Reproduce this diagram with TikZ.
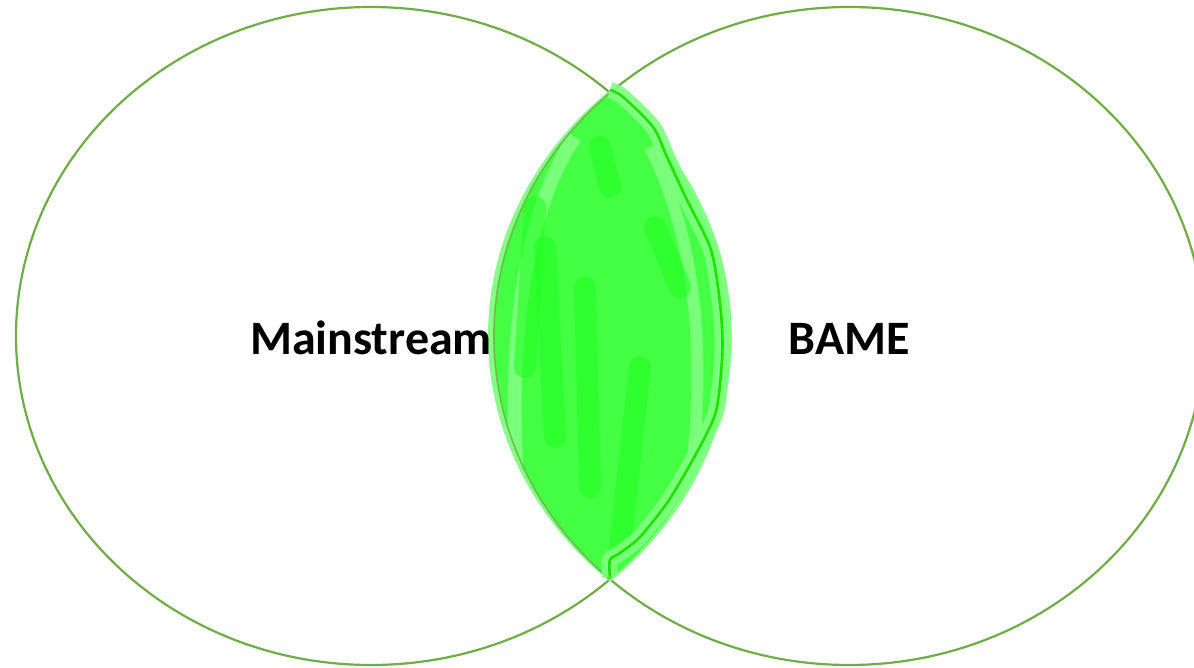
\documentclass[tikz,border=0pt]{standalone}
\usepackage{fontspec}
\setmainfont{Carlito}
\definecolor{ringgreen}{HTML}{70AD47}
\definecolor{hlA}{HTML}{80FF80}
\definecolor{hlB}{HTML}{40FF40}
\definecolor{hlC}{HTML}{1EFF1E}
\definecolor{penline}{HTML}{22E000}
\tikzset{
  ring/.style={draw=ringgreen, line width=2.2pt},
  label/.style={font=\bfseries\fontsize{48}{56}\selectfont, anchor=base, inner sep=0pt},
  streak/.style={draw=hlC, line width=22pt, line cap=round, opacity=0.55},
}
\begin{document}
\begin{tikzpicture}[x=1pt,y=1pt]
\useasboundingbox (0,0) rectangle (1194,667);
\fill[white] (0,0) rectangle (1194,667);
\def\lenspath{(610,574.4) arc[start angle=47.7, end angle=-47.7, x radius=355, y radius=329]
  arc[start angle=227.7, end angle=132.3, x radius=355, y radius=329] -- cycle}
\def\penpts{(610,90) (610,107) (620,114) (640,130) (667,164) (687,197) (707,234) (717,260)
  (722,307) (722,340) (718,380) (710,420) (687,467) (667,510) (653,540) (623,570) (610,577)}
% ellipses
\draw[ring] (371,331) ellipse[x radius=355, y radius=329];
\draw[ring] (849,331) ellipse[x radius=355, y radius=329];
% light rim slightly outside the lens
\begin{scope}[shift={(612,331)}, xscale=1.05, yscale=1.01, shift={(-612,-331)}]
  \fill[hlA, opacity=0.95] \lenspath;
\end{scope}
% main fill
\begin{scope}
  \clip \lenspath;
  \fill[hlB, opacity=0.92] (480,60) rectangle (740,600);
  \draw[draw=hlA, line width=14pt, opacity=0.9] (520,150) .. controls (505,300) and (520,450) .. (575,530);
  \draw[draw=hlA, line width=12pt, opacity=0.9] (690,180) .. controls (705,300) and (700,420) .. (650,520);
  \draw[streak] (555,230) -- (545,420);
  \draw[streak] (590,180) -- (585,380);
  \draw[streak] (620,120) -- (640,300);
  \draw[streak] (525,300) -- (535,460);
  \draw[streak] (680,380) -- (655,440);
  \draw[streak] (610,480) -- (600,520);
\end{scope}
% redraw the left edge of the lens (right ellipse) faintly on top
\draw[ringgreen, line width=1.6pt, opacity=0.8]
  (610,87.6) arc[start angle=227.7, end angle=132.3, x radius=355, y radius=329];
% highlighter band under the pen line
\draw[hlA, line width=16pt, line join=round, opacity=0.9] plot[smooth, tension=0.5] coordinates {\penpts};
% hand-drawn pen line on right side of lens
\draw[penline, line width=2.6pt, line join=round] plot[smooth, tension=0.5] coordinates {\penpts};
% labels
\node[label] (main) at (371,312) {Mainstream};
\node[label] (bame) at (849,312) {BAME};
\end{tikzpicture}
\end{document}
